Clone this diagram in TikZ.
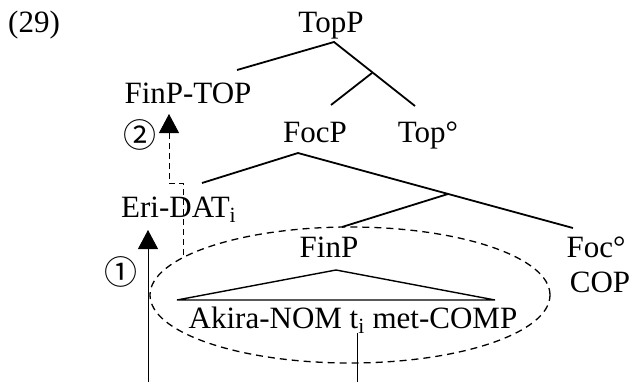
\documentclass[tikz,border=0pt]{standalone}
\usepackage{fontspec}
\setmainfont{Liberation Serif}
\newfontfamily\circfont{Noto Sans CJK JP}
\usetikzlibrary{arrows.meta,shapes.geometric}
\begin{document}
\begin{tikzpicture}[x=1pt,y=-1pt,
  lbl/.style={font=\fontsize{31}{36}\selectfont, inner sep=0pt, anchor=base},
  circ/.style={font=\circfont\fontsize{33}{36}\selectfont, inner sep=0pt},
  branch/.style={line width=1.8pt},
  mv/.style={line width=0.9pt, -{Triangle[width=20pt,length=19pt]}},
  ell/.style={ellipse, draw, line width=1.3pt, dash pattern=on 7pt off 5pt, minimum width=400pt, minimum height=136pt, inner sep=0pt}
]
\useasboundingbox (0,0) rectangle (632,383);
% labels
\node[lbl, anchor=base west] (num) at (8,32) {(29)};
\node[lbl] (topp) at (331,32) {TopP};
\node[lbl] (finptop) at (188,103) {FinP-TOP};
\node[lbl] (focp) at (315,142) {FocP};
\node[lbl] (topdeg) at (428,142) {Top°};
\node[lbl, anchor=base west] (eri) at (121,217) {Eri-DAT\textsubscript{i}};
\node[lbl] (finp) at (329,257) {FinP};
\node[lbl] (focdeg) at (596,257) {Foc°};
\node[lbl] (cop) at (600,292) {COP};
\node[lbl] (akira) at (353,328) {Akira-NOM t\textsubscript{i} met-COMP};
\node[circ] (c1) at (121,272) {①};
\node[circ] (c2) at (140,135) {②};
% ellipse
\node[ell] (ellip) at (350,295) {};
% tree coordinates
\coordinate (topp-a) at (334,42);
\coordinate (topp-l) at (237,70);
\coordinate (topp-r) at (415,106);
\coordinate (topbar-a) at (372,73);
\coordinate (topbar-l) at (331,105);
\coordinate (focp-a) at (298,153);
\coordinate (focp-l) at (202,183);
\coordinate (focp-r) at (573,228);
\coordinate (focbar-a) at (448,194);
\coordinate (focbar-l) at (342,227);
\coordinate (tri-a) at (336,270);
\coordinate (tri-l) at (177,300);
\coordinate (tri-r) at (495,300);
% tree lines
\draw[branch] (topp-l) -- (topp-a) -- (topp-r);
\draw[branch] (topbar-a) -- (topbar-l);
\draw[branch] (focp-l) -- (focp-a) -- (focp-r);
\draw[branch] (focbar-a) -- (focbar-l);
\draw[line width=1.4pt] (tri-l) -- (tri-a) -- (tri-r) -- cycle;
% movement arrows
\coordinate (m1-foot) at (148,382);
\coordinate (m1-tip) at (148,230);
\draw[mv] (m1-foot) -- (m1-tip);
\coordinate (t-top) at (357,333);
\coordinate (t-foot) at (357,382);
\draw[line width=0.9pt] (t-top) -- (t-foot);
\coordinate (m2-foot) at (183,255);
\coordinate (m2-corner1) at (183,183);
\coordinate (m2-corner2) at (169,183);
\coordinate (m2-tip) at (169,114);
\draw[mv, dash pattern=on 6pt off 4pt] (m2-foot) -- (m2-corner1) -- (m2-corner2) -- (m2-tip);
\end{tikzpicture}
\end{document}
